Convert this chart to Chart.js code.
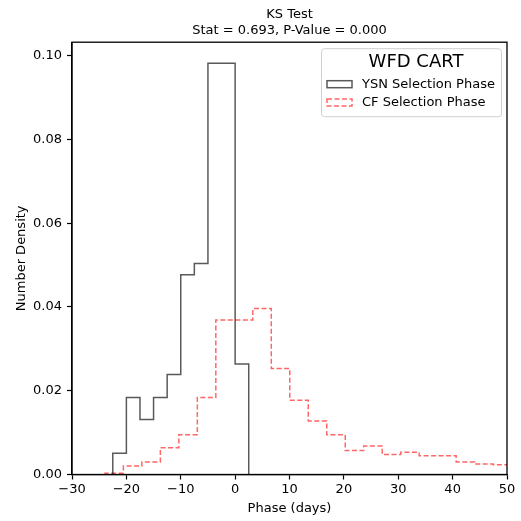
<!DOCTYPE html>
<html>
<head>
<meta charset="utf-8">
<script src="https://cdn.jsdelivr.net/npm/chart.js@4/dist/chart.umd.min.js"></script>
<style>
  html, body { margin: 0; padding: 0; background: #fff; }
  #wrap { width: 521px; height: 521px; }
</style>
</head>
<body>
<div id="wrap"><canvas id="ks-chart"></canvas></div>
<script>
// histogram bin edges and densities
const ysnEdges = [-22.5, -20.0, -17.5, -15.0, -12.5, -10.0, -7.5, -5.0, -2.5, 0.0, 2.5];
const ysnDensity = [0.0051, 0.0184, 0.0131, 0.0184, 0.0239, 0.0477, 0.0504, 0.0982, 0.0982, 0.0264];

const cfEdges = [-23.95, -20.55, -17.15, -13.75, -10.35, -6.95, -3.55, -0.15, 3.25, 6.65, 10.05,
                 13.45, 16.85, 20.25, 23.65, 27.05, 30.45, 33.85, 37.25, 40.65, 44.05, 47.45, 50.85];
const cfDensity = [0.0003, 0.0020, 0.0030, 0.0064, 0.0095, 0.0184, 0.0369, 0.0369, 0.0396, 0.0253, 0.0177,
                   0.0128, 0.0095, 0.0057, 0.0068, 0.0048, 0.0053, 0.0045, 0.0045, 0.0030, 0.0025, 0.0023];

const xTicks = [-30, -20, -10, 0, 10, 20, 30, 40, 50];
const yTicks = [0.00, 0.02, 0.04, 0.06, 0.08, 0.10];

const titleLines = ['KS Test', 'Stat = 0.693, P-Value = 0.000'];
const legendTitle = 'WFD CART';

// turn edges + heights into the outline of a step histogram
function stepOutline(edges, vals) {
    const pts = [{x: edges[0], y: 0}];
    vals.forEach((v, i) => {
        pts.push({x: edges[i], y: v});
        pts.push({x: edges[i + 1], y: v});
    });
    pts.push({x: edges[edges.length - 1], y: 0});
    return pts;
}

const FONT = 'DejaVu Sans';
const minus = s => String(s).replace('-', '\u2212');

// frame on all four sides, like matplotlib spines
const framePlugin = {
    id: 'frame',
    afterDatasetsDraw(chart) {
        const {ctx, chartArea: a} = chart;
        ctx.save();
        ctx.strokeStyle = '#000';
        ctx.lineWidth = 1.3;
        ctx.strokeRect(a.left, a.top, a.right - a.left, a.bottom - a.top);
        ctx.restore();
    }
};

// legend box inside the axes, upper right
const boxLegend = {
    id: 'boxLegend',
    afterDraw(chart) {
        const {ctx, chartArea: a} = chart;
        const w = 180, h = 68;
        const x0 = a.right - 6 - w, y0 = a.top + 6;
        ctx.save();
        ctx.fillStyle = 'rgba(255,255,255,0.8)';
        ctx.strokeStyle = '#d0d0d0';
        ctx.lineWidth = 1;
        ctx.beginPath();
        ctx.roundRect(x0 + 0.5, y0 + 0.5, w, h, 3);
        ctx.fill();
        ctx.stroke();

        ctx.fillStyle = '#000';
        ctx.textAlign = 'center';
        ctx.textBaseline = 'middle';
        ctx.font = '18px "' + FONT + '"';
        ctx.fillText(legendTitle, x0 + w / 2 + 5, y0 + 14);

        ctx.font = '13px "' + FONT + '"';
        ctx.textAlign = 'left';
        chart.data.datasets.forEach((ds, i) => {
            const cy = y0 + 36 + i * 18.3;
            ctx.strokeStyle = ds.borderColor;
            ctx.lineWidth = ds.borderWidth;
            ctx.setLineDash(ds.borderDash || []);
            ctx.strokeRect(x0 + 6, cy - 3.5, 25, 7);
            ctx.setLineDash([]);
            ctx.fillStyle = '#000';
            ctx.fillText(ds.label, x0 + 41, cy);
        });
        ctx.restore();
    }
};

new Chart(document.querySelector('#ks-chart').getContext('2d'), {
    type: 'scatter',
    data: {
        datasets: [
            {
                label: 'YSN Selection Phase',
                data: stepOutline(ysnEdges, ysnDensity),
                showLine: true,
                borderColor: 'rgba(0,0,0,0.65)',
                borderWidth: 1.5,
                pointRadius: 0,
                fill: false
            },
            {
                label: 'CF Selection Phase',
                data: stepOutline(cfEdges, cfDensity),
                showLine: true,
                borderColor: 'rgba(255,0,0,0.6)',
                borderWidth: 1.5,
                borderDash: [5, 2.5],
                pointRadius: 0,
                fill: false
            }
        ]
    },
    options: {
        responsive: true,
        maintainAspectRatio: false,
        animation: false,
        events: [],
        layout: { padding: { left: 14, right: 14, top: 0, bottom: 5 } },
        plugins: {
            legend: { display: false },
            tooltip: { enabled: false },
            title: {
                display: true,
                fullSize: false,
                text: titleLines,
                color: '#000',
                font: { family: FONT, size: 13, weight: 'normal', lineHeight: 1.2 },
                padding: { top: 7, bottom: 4 }
            }
        },
        scales: {
            x: {
                type: 'linear',
                min: -30,
                max: 50,
                afterFit(s) { s.height = 41.5; },
                afterBuildTicks(s) { s.ticks = xTicks.map(v => ({value: v})); },
                ticks: {
                    color: '#000',
                    font: { family: FONT, size: 13 },
                    padding: 2,
                    maxRotation: 0,
                    callback: v => minus(v)
                },
                grid: { drawOnChartArea: false, drawTicks: true, tickLength: 5, tickColor: '#000', tickWidth: 1.2 },
                border: { display: true, color: '#000', width: 1.3 },
                title: { display: true, text: 'Phase (days)', color: '#000', font: { family: FONT, size: 13 }, padding: { top: 0, bottom: 0 } }
            },
            y: {
                type: 'linear',
                min: 0,
                max: 0.1032,
                afterFit(s) { s.width = 58; },
                afterBuildTicks(s) { s.ticks = yTicks.map(v => ({value: v})); },
                ticks: {
                    color: '#000',
                    font: { family: FONT, size: 13 },
                    padding: 5,
                    callback: v => v.toFixed(2)
                },
                grid: { drawOnChartArea: false, drawTicks: true, tickLength: 5, tickColor: '#000', tickWidth: 1.2 },
                border: { display: true, color: '#000', width: 1.3 },
                title: { display: true, text: 'Number Density', color: '#000', font: { family: FONT, size: 13 }, padding: { top: 0, bottom: 0 } }
            }
        }
    },
    plugins: [framePlugin, boxLegend]
});
</script>
</body>
</html>
